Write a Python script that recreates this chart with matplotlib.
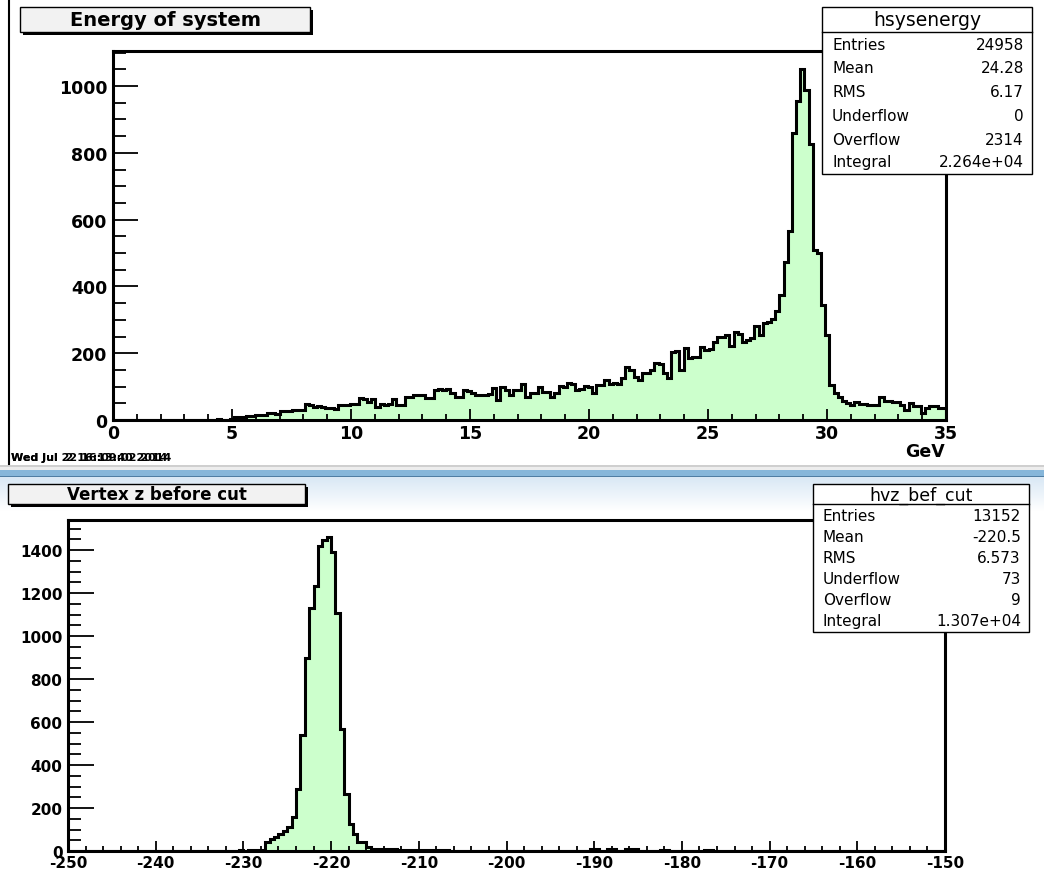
import numpy as np
import matplotlib
matplotlib.use("Agg")
import matplotlib.pyplot as plt
from matplotlib.patches import Rectangle
from matplotlib.ticker import MultipleLocator

W, H = 1044, 870

# ---- hsysenergy : 200 bins on [0, 35] GeV ----
energy_range = (0.0, 35.0)
energy_counts = [
    0, 0, 0, 0, 0, 0, 0, 0, 0, 0,
    0, 0, 0, 0, 0, 0, 0, 0, 0, 0,
    0, 0, 0, 0, 0, 3, 0, 1, 2, 10,
    8, 10, 12, 11, 15, 15, 16, 20, 21, 19,
    27, 26, 28, 30, 31, 29, 48, 46, 40, 42,
    39, 35, 36, 34, 45, 44, 46, 47, 48, 65,
    64, 55, 63, 40, 47, 46, 48, 63, 45, 46,
    70, 69, 75, 74, 76, 65, 66, 90, 92, 89,
    93, 80, 68, 70, 90, 88, 80, 75, 76, 74,
    78, 95, 60, 100, 90, 75, 90, 91, 108, 68,
    80, 82, 100, 85, 84, 70, 80, 102, 100, 110,
    108, 90, 92, 102, 100, 80, 105, 106, 120, 108,
    110, 107, 125, 160, 150, 130, 120, 140, 141, 150,
    170, 168, 140, 125, 205, 208, 150, 215, 186, 188,
    190, 220, 210, 212, 235, 248, 250, 255, 222, 265,
    258, 235, 240, 245, 282, 255, 290, 292, 301, 327,
    374, 474, 567, 860, 955, 1050, 988, 828, 509, 500,
    344, 254, 105, 82, 68, 58, 52, 45, 55, 48,
    47, 45, 44, 45, 68, 58, 57, 55, 54, 45,
    30, 52, 42, 41, 22, 35, 42, 42, 35, 36,
]
energy_stats = [("Entries", "24958"), ("Mean", "24.28"), ("RMS", "6.17"),
                ("Underflow", "0"), ("Overflow", "2314"),
                ("Integral", "2.264e+04")]

# ---- hvz_bef_cut : 200 bins on [-250, -150] ----
vz_range = (-250.0, -150.0)
vz_counts = [
    0, 0, 0, 0, 0, 0, 0, 0, 0, 0,
    0, 0, 0, 0, 0, 0, 0, 0, 0, 0,
    0, 0, 0, 0, 0, 0, 0, 0, 0, 0,
    0, 1, 0, 1, 1, 1, 2, 1, 2, 3,
    2, 3, 3, 4, 5, 40, 55, 64, 79, 95,
    111, 157, 289, 541, 896, 1129, 1231, 1420, 1445, 1460,
    1390, 1106, 569, 266, 126, 79, 42, 42, 19, 10,
    9, 8, 8, 7, 7, 6, 6, 5, 5, 5,
    4, 4, 4, 3, 3, 3, 3, 2, 2, 2,
    2, 2, 2, 1, 2, 1, 1, 2, 1, 1,
    1, 1, 0, 1, 1, 0, 1, 0, 1, 1,
    0, 1, 0, 1, 0, 1, 0, 0, 1, 7,
    7, 0, 1, 8, 8, 1, 0, 10, 10, 10,
    1, 0, 0, 0, 0, 5, 5, 0, 0, 0,
    1, 0, 0, 0, 0, 4, 4, 0, 0, 0,
    0, 0, 0, 0, 0, 0, 0, 0, 0, 0,
    0, 0, 0, 0, 0, 0, 0, 0, 0, 0,
    0, 0, 0, 0, 0, 0, 0, 0, 0, 0,
    0, 0, 0, 0, 0, 0, 0, 0, 0, 0,
    0, 0, 0, 0, 0, 0, 0, 0, 0, 0,
]
vz_stats = [("Entries", "13152"), ("Mean", "-220.5"), ("RMS", "6.573"),
            ("Underflow", "73"), ("Overflow", "9"),
            ("Integral", "1.307e+04")]

FILL = "#ccffcc"

plt.rcParams["font.family"] = ["DejaVu Sans"]
plt.rcParams["axes.unicode_minus"] = False

fig = plt.figure(figsize=(W / 100, H / 100), dpi=100)
fig.patch.set_facecolor("white")


def frac_rect(x0, y0, x1, y1):
    """pixel box (top-left origin) -> figure fraction rect"""
    return [x0 / W, 1 - y1 / H, (x1 - x0) / W, (y1 - y0) / H]


# background layer: window header strip between the two canvases
bg = fig.add_axes([0, 0, 1, 1], zorder=-10)
bg.set_xlim(0, W)
bg.set_ylim(H, 0)
bg.axis("off")
bg.add_patch(Rectangle((0, 465.5), W, 2, color="#cfcfcf", lw=0))
bg.add_patch(Rectangle((0, 467.5), W, 3, color="#ededed", lw=0))
bg.add_patch(Rectangle((0, 470.5), W, 6, color="#86b6da", lw=0))
bg.add_patch(Rectangle((0, 476.5), W, 1.5, color="#4f7da3", lw=0))
grad = np.linspace(0, 1, 64)[:, None]
cmap = matplotlib.colors.LinearSegmentedColormap.from_list(
    "hdr", ["#d9e8f5", "#ffffff"])
bg.imshow(grad, extent=(0, W, 512, 478), cmap=cmap, aspect="auto",
          interpolation="bilinear")


def hist_panel(rect, counts, rng, ylim, xmaj, xmin_, ymaj, ymin_,
               lab_size, ylen, xlen):
    ax = fig.add_axes(rect, zorder=0)
    edges = np.linspace(rng[0], rng[1], len(counts) + 1)
    ax.stairs(counts, edges, baseline=0, fill=True, color=FILL, lw=0)
    ax.stairs(counts, edges, baseline=0, fill=False, color="black", lw=2.2)
    ax.set_xlim(*rng)
    ax.set_ylim(*ylim)
    ax.xaxis.set_major_locator(MultipleLocator(xmaj))
    ax.xaxis.set_minor_locator(MultipleLocator(xmin_))
    ax.yaxis.set_major_locator(MultipleLocator(ymaj))
    ax.yaxis.set_minor_locator(MultipleLocator(ymin_))
    ax.tick_params(axis="y", which="major", direction="in", length=ylen,
                   width=1.3, pad=4)
    ax.tick_params(axis="y", which="minor", direction="in",
                   length=ylen * 0.5, width=1.3)
    ax.tick_params(axis="x", which="major", direction="in", length=xlen,
                   width=1.3, pad=3)
    ax.tick_params(axis="x", which="minor", direction="in",
                   length=xlen * 0.5, width=1.3)
    for lab in ax.get_xticklabels() + ax.get_yticklabels():
        lab.set_fontweight("bold")
        lab.set_fontsize(lab_size)
    for sp in ax.spines.values():
        sp.set_linewidth(2.2)
    return ax


ax1 = hist_panel(frac_rect(113, 52, 946, 421), energy_counts, energy_range,
                 (0, 1105), 5, 1, 200, 50, 12.5, 18, 8)
ax2 = hist_panel(frac_rect(68, 521, 945, 852), vz_counts, vz_range,
                 (0, 1540), 10, 2, 200, 50, 11, 19, 7)

# overlay layer: title boxes, stats boxes and canvas annotations
ov = fig.add_axes([0, 0, 1, 1], zorder=10)
ov.set_xlim(0, W)
ov.set_ylim(H, 0)
ov.axis("off")

# left border of the upper canvas
ov.plot([9, 9], [0, 465], color="black", lw=1.5)

ov.text(945, 452, "GeV", ha="right", va="center", fontsize=12.5,
        fontweight="bold")
# two print stamps written over each other on the canvas
for stamp in ("Wed Jul  2 16:13:40 2014", "Wed Jul 22 16:09:02 2014"):
    ov.text(11, 458, stamp, ha="left", va="center", fontsize=8,
            fontweight="bold")


def title_box(x0, y0, x1, y1, text, size):
    ov.add_patch(Rectangle((x0 + 3, y0 + 3), x1 - x0, y1 - y0,
                           facecolor="black", edgecolor="none"))
    ov.add_patch(Rectangle((x0, y0), x1 - x0, y1 - y0,
                           facecolor="#f2f2f2", edgecolor="black", lw=1))
    ov.text((x0 + x1) / 2, (y0 + y1) / 2 + 0.5, text, ha="center",
            va="center", fontsize=size, fontweight="bold")


def stats_box(x0, y0, x1, y1, ydiv, name, rows, row_y, size, tsize):
    ov.add_patch(Rectangle((x0, y0), x1 - x0, y1 - y0,
                           facecolor="white", edgecolor="black", lw=1))
    ov.plot([x0, x1], [ydiv, ydiv], color="black", lw=1)
    ov.text((x0 + x1) / 2, (y0 + ydiv) / 2 + 0.5, name, ha="center",
            va="center", fontsize=tsize)
    for (k, v), yy in zip(rows, row_y):
        ov.text(x0 + 10, yy, k, ha="left", va="center", fontsize=size)
        ov.text(x1 - 8, yy, v, ha="right", va="center", fontsize=size)


title_box(20, 8, 310, 33, "Energy of system", 14)
title_box(8, 485, 305, 505, "Vertex z before cut", 12)

stats_box(822, 8, 1032, 175, 33, "hsysenergy", energy_stats,
          [45, 68.5, 92.5, 116.5, 140.5, 162.5], 11, 13.5)
stats_box(813, 485, 1029, 633, 505, "hvz_bef_cut", vz_stats,
          [517, 538, 559, 580, 601, 622], 11, 12.5)

fig.savefig("out.png", dpi=100, facecolor="white")
